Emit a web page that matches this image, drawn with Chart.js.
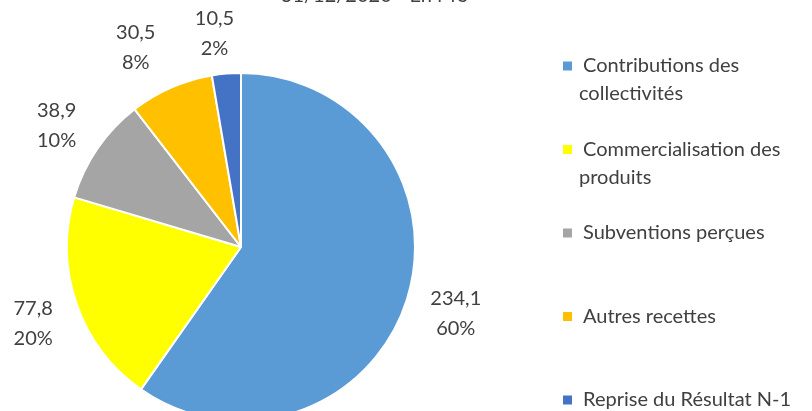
<!DOCTYPE html>
<html lang="fr">
<head>
  <meta charset="UTF-8">
  <title>Recettes - En M€</title>
  <script src="https://cdn.jsdelivr.net/npm/chart.js"></script>
  <style>
    html, body { margin: 0; padding: 0; background: #ffffff; overflow: hidden; }
    #conteneur { position: absolute; left: 0; top: -20px; width: 812px; height: 460px; }
  </style>
</head>
<body>
  <div id="conteneur">
    <canvas id="graficoRecettes"></canvas>
  </div>
<script>
  // Données (en M€)
  var categories = ['Contributions des collectivités', 'Commercialisation des produits', 'Subventions perçues', 'Autres recettes', 'Reprise du Résultat N-1'];
  var legendeLignes = [['Contributions des', 'collectivités'], ['Commercialisation des', 'produits'], ['Subventions perçues'], ['Autres recettes'], ['Reprise du Résultat N-1']];
  var valeurs = [234.1, 77.8, 38.9, 30.5, 10.5];
  var valeursTexte = ['234,1', '77,8', '38,9', '30,5', '10,5'];
  var pourcentages = ['60%', '20%', '10%', '8%', '2%'];
  var couleurs = ['#5B9BD5', '#FFFF00', '#A5A5A5', '#FFC000', '#4472C4'];
  var titre = '31/12/2020 - En M€';

  // petits décalages des étiquettes (placement comme dans Excel)
  var decalages = [[5, 0], [0, 4], [-3, 3], [-17, 2], [-8, 6]];

  var police = 'Lato, "Open Sans", sans-serif';

  // étiquettes à l'extérieur des parts + légende + titre
  var pluginEtiquettes = {
    id: 'etiquettes',
    afterDatasetsDraw: function (chart) {
      var ctx = chart.ctx;
      var meta = chart.getDatasetMeta(0);
      ctx.save();
      ctx.fillStyle = '#404040';
      ctx.font = '20px ' + police;
      ctx.textAlign = 'center';
      ctx.textBaseline = 'middle';
      meta.data.forEach(function (arc, i) {
        var p = arc.getProps(['x', 'y', 'startAngle', 'endAngle', 'outerRadius'], true);
        var milieu = (p.startAngle + p.endAngle) / 2;
        var d = p.outerRadius + 46;
        var px = p.x + Math.cos(milieu) * d + decalages[i][0];
        var py = p.y + Math.sin(milieu) * d + decalages[i][1];
        ctx.fillText(valeursTexte[i], px, py - 15);
        ctx.fillText(pourcentages[i], px, py + 15);
      });

      // légende
      ctx.textAlign = 'left';
      for (var i = 0; i < legendeLignes.length; i++) {
        var y = 86 + i * 83.5;
        ctx.fillStyle = couleurs[i];
        ctx.fillRect(563, y - 4.5, 9, 9);
        ctx.fillStyle = '#404040';
        for (var j = 0; j < legendeLignes[i].length; j++) {
          ctx.fillText(legendeLignes[i][j], j === 0 ? 583 : 579, y + j * 28);
        }
      }

      // titre (coupé en haut)
      ctx.textAlign = 'center';
      ctx.textBaseline = 'alphabetic';
      ctx.fillText(titre, 374, 22);
      ctx.restore();
    }
  };

  var ctx = document.getElementById('graficoRecettes').getContext('2d');
  var myChart = new Chart(ctx, {
    type: 'pie',
    data: {
      labels: categories,
      datasets: [{
        data: valeurs,
        backgroundColor: couleurs,
        borderColor: '#ffffff',
        borderWidth: 2
      }]
    },
    options: {
      responsive: true,
      maintainAspectRatio: false,
      animation: false,
      layout: {
        padding: { left: 66, right: 396, top: 92, bottom: 18 }
      },
      plugins: {
        legend: { display: false },
        tooltip: { enabled: false }
      }
    },
    plugins: [pluginEtiquettes]
  });
</script>
</body>
</html>
